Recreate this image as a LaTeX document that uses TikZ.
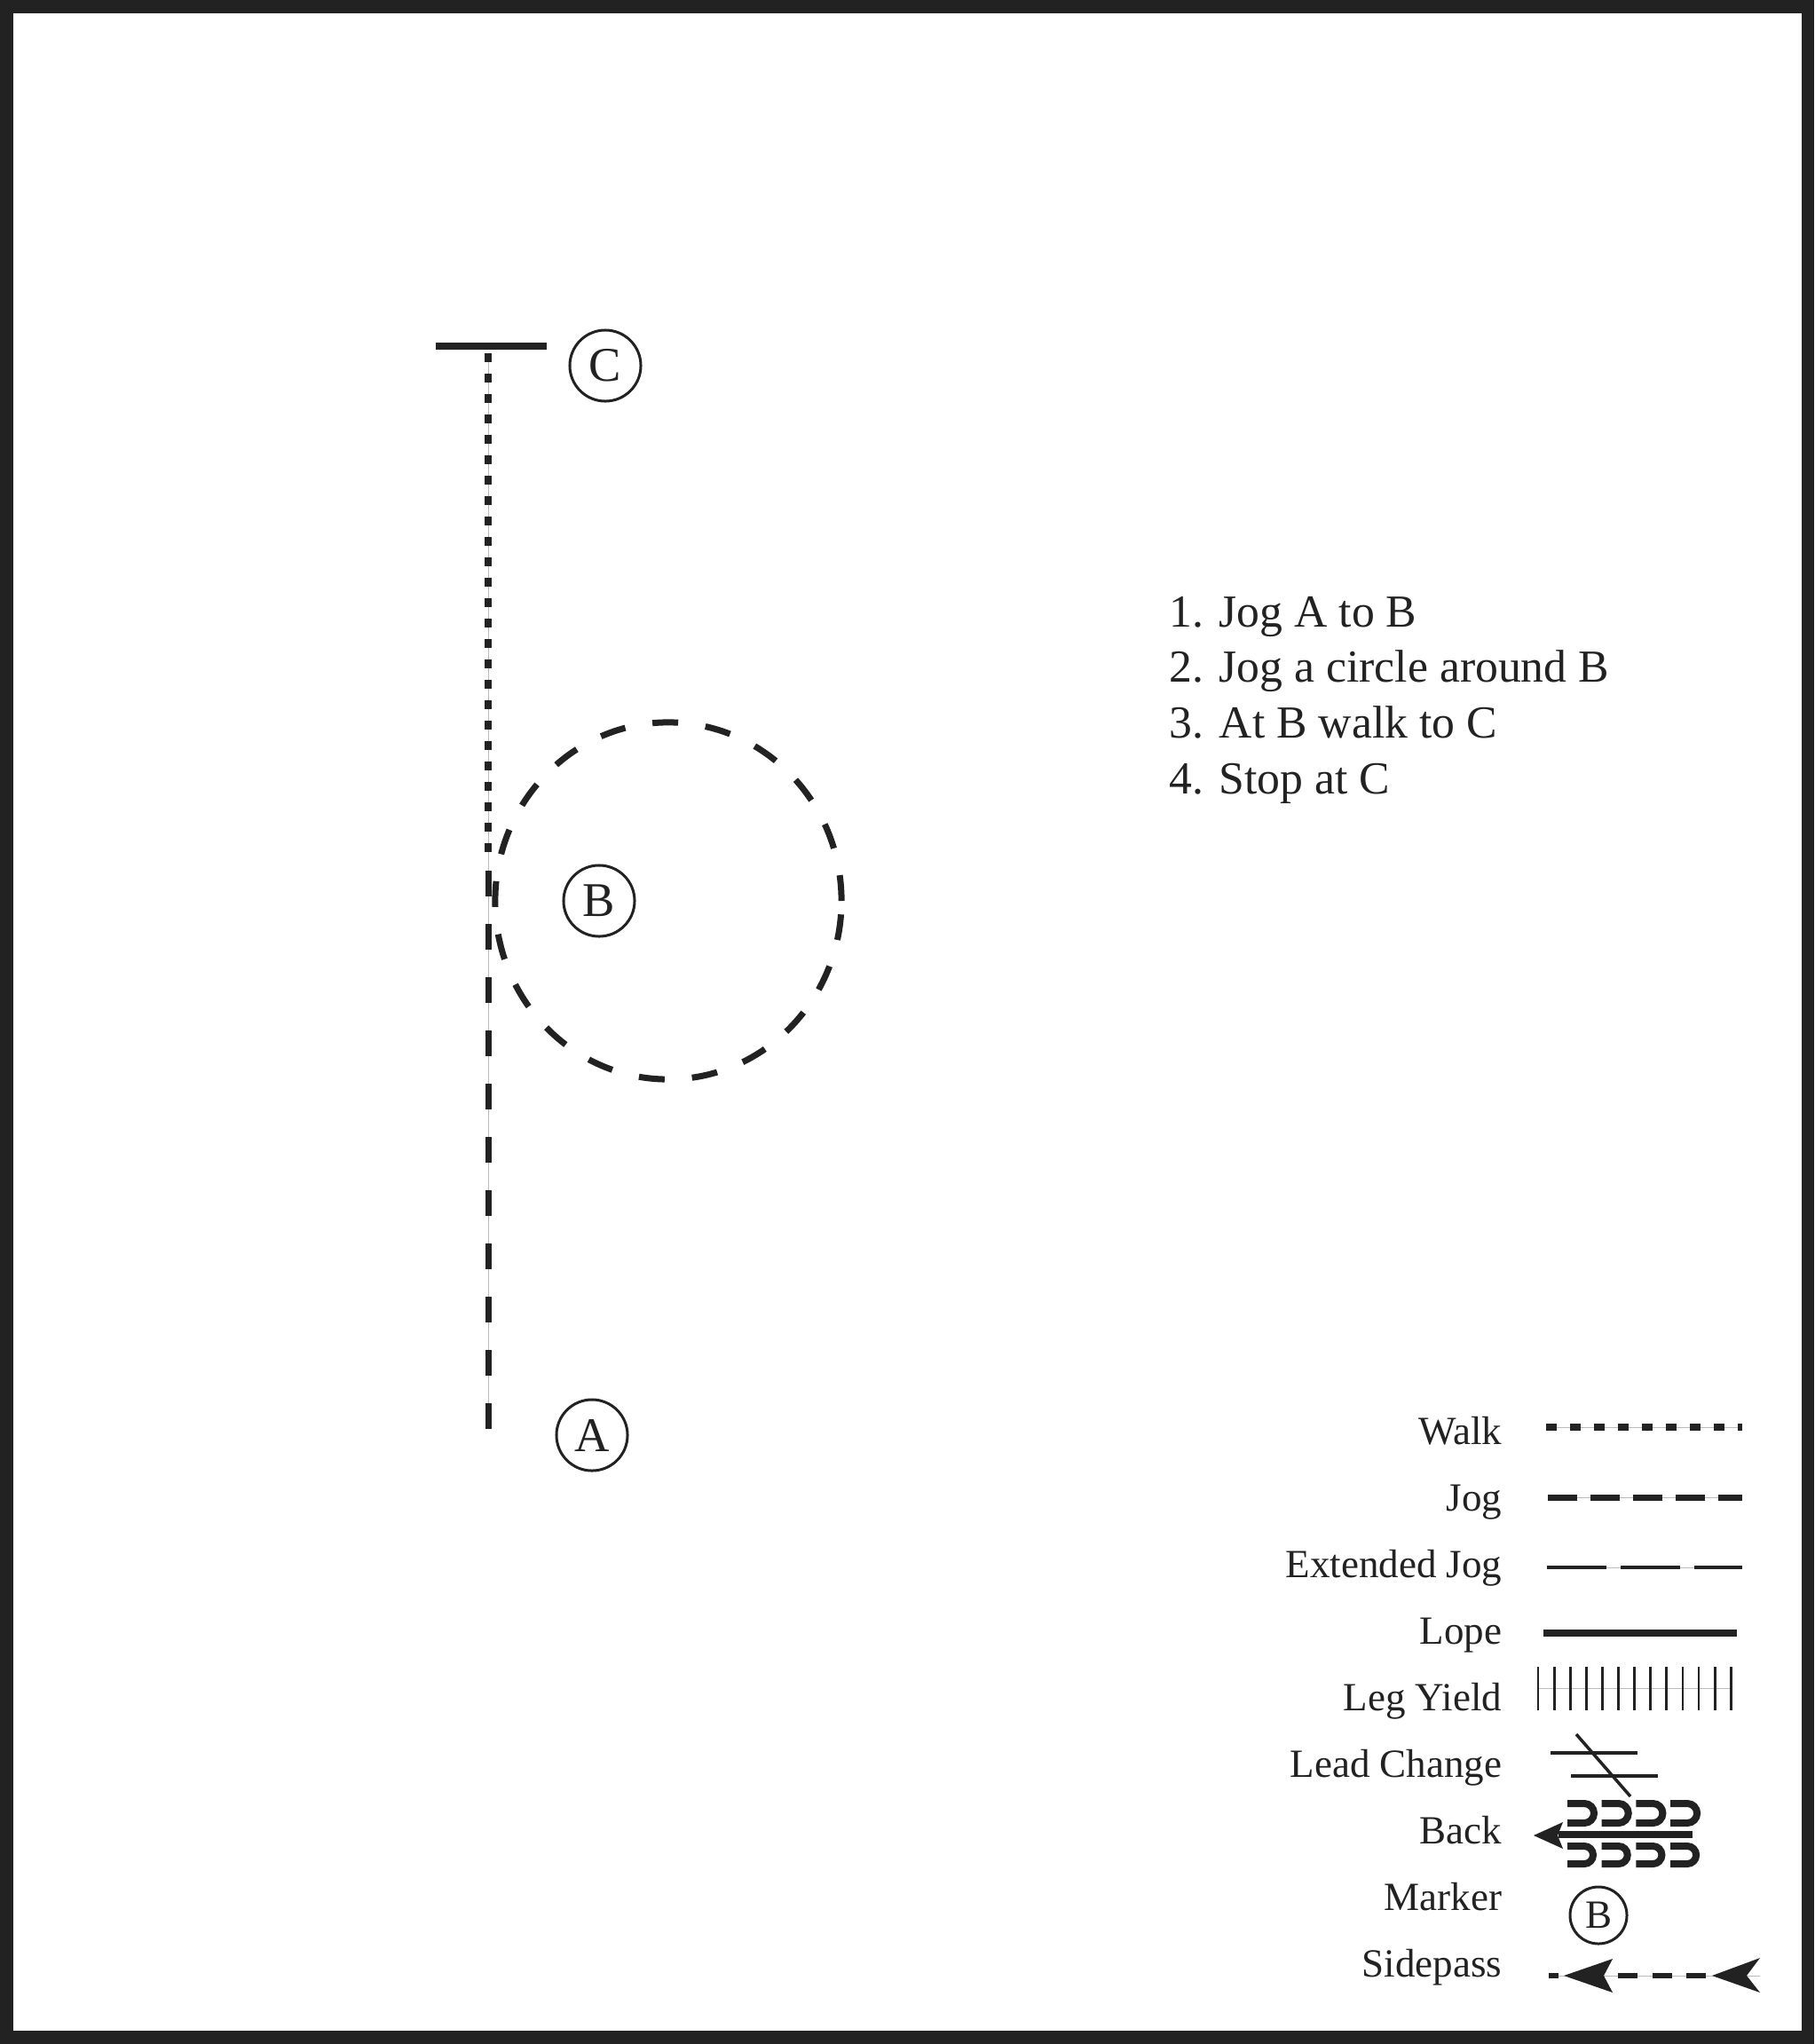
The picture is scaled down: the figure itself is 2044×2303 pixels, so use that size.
\documentclass[tikz,border=0pt]{standalone}
\usepackage{fontspec}
\setmainfont{Liberation Serif}
\usepackage{tikz}
\usetikzlibrary{positioning,calc}
\definecolor{ink}{HTML}{222222}
\definecolor{guidegray}{HTML}{BBBBBB}

\begin{document}
\begin{tikzpicture}[x=0.01cm, y=-0.01cm,
    marker/.style={circle, draw=ink, line width=0.03cm, minimum size=0.8cm, inner sep=0pt,
      text=ink, font=\fontsize{15.5}{18}\selectfont},
    keymarker/.style={marker, minimum size=0.64cm, font=\fontsize{12.8}{15}\selectfont},
    guide/.style={draw=guidegray, line width=0.01cm},
    walk/.style={draw=ink, line width=0.08cm, dash pattern=on 0.1cm off 0.13cm},
    jog/.style={draw=ink, line width=0.07cm, dash pattern=on 0.29cm off 0.31cm},
    lope/.style={draw=ink, line width=0.075cm},
    steptext/.style={anchor=base west, inner sep=0pt, text=ink, font=\fontsize{14.7}{18}\selectfont},
    keytext/.style={anchor=base east, inner sep=0pt, text=ink, font=\fontsize{12.8}{15}\selectfont}]

  \fill[ink] (0,0) rectangle (2044,2303);
  \fill[white] (15,15) rectangle (2030,2288);

  \coordinate (stop) at (550,390);
  \coordinate (walkend) at (550,398);
  \coordinate (turn) at (550,973);
  \coordinate (start) at (550,1610);

  \draw[guide] (walkend) -- (start);
  \draw[jog] (start) -- (550,980);
  \draw[walk] (walkend) -- (turn);
  \draw[lope] (491,390) -- (616,390);
  \draw[jog] (753,1015) ellipse [x radius=1.95cm, y radius=2.01cm];

  \node[marker] (C) at (682,412) {C};
  \node[marker] (B) at (675,1015) {B};
  \node[marker] (A) at (667,1617) {A};

  \foreach \t [count=\i] in {Jog A to B, Jog a circle around B, At B walk to C, Stop at C}
    \node[steptext] (step\i) at (1317,{706+62.7*(\i-1)}) {\i. \t};

  \foreach \t [count=\i] in {Walk, Jog, Extended Jog, Lope, Leg Yield, Lead Change, Back, Marker, Sidepass}
    \node[keytext] (key\i) at (1693,{1627+75*(\i-1)}) {\t};

  % walk, jog, extended jog, lope
  \draw[guide] (1742,1608) -- (1963,1608);
  \draw[draw=ink, line width=0.08cm, dash pattern=on 0.12cm off 0.15cm] (1742,1608) -- (1963,1608);
  \draw[guide] (1744,1687) -- (1963,1687);
  \draw[draw=ink, line width=0.07cm, dash pattern=on 0.33cm off 0.15cm] (1744,1687) -- (1963,1687);
  \draw[guide] (1743,1766) -- (1963,1766);
  \draw[draw=ink, line width=0.04cm, dash pattern=on 0.67cm off 0.16cm] (1743,1766) -- (1963,1766);
  \draw[lope] (1739,1840) -- (1957,1840);

  % leg yield
  \draw[guide] (1733,1902) -- (1950,1902);
  \foreach \i in {0,...,12}
    \draw[ink, line width=0.028cm] ({1733+18.1*\i},1878) -- ({1733+18.1*\i},1927);

  % lead change
  \draw[ink, line width=0.035cm] (1747,1975) -- (1845,1975);
  \draw[ink, line width=0.035cm] (1770,2001) -- (1868,2001);
  \draw[ink, line width=0.035cm] (1776,1954) -- (1837,2024);

  % back
  \fill[ink] (1728,2068) -- (1761,2053) -- (1755,2068) -- (1761,2083) -- cycle;
  \draw[ink, line width=0.08cm] (1756,2067) -- (1907,2067);
  \foreach \i in {0,...,3} {
    \draw[ink, line width=0.08cm] ({1766+38.7*\i},2032) -- ++(19,0)
      arc[start angle=90, end angle=-90, radius=0.11cm] -- ++(-19,0);
    \draw[ink, line width=0.08cm] ({1766+38.7*\i},2080) -- ++(19,0)
      arc[start angle=90, end angle=-90, radius=0.10cm] -- ++(-19,0);
  }

  % marker
  \node[keymarker] (keyB) at (1801,2158) {B};

  % sidepass
  \draw[guide] (1745,2226) -- (1983,2226);
  \draw[ink, line width=0.055cm] (1745,2226) -- (1756,2226);
  \draw[ink, line width=0.055cm, dash pattern=on 0.22cm off 0.165cm] (1823,2226) -- (1922,2226);
  \fill[ink] (1762,2226) -- (1817,2207) -- (1807,2226) -- (1817,2245) -- cycle;
  \fill[ink] (1929,2226) -- (1983,2206) -- (1968,2226) -- (1983,2245) -- cycle;
\end{tikzpicture}
\end{document}
